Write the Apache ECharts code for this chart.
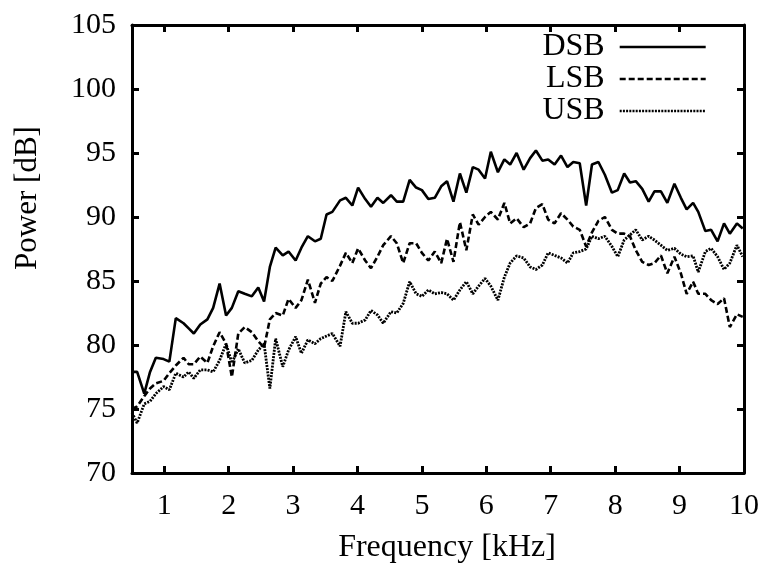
<!DOCTYPE html>
<html><head><meta charset="utf-8">
<script src="https://cdn.jsdelivr.net/npm/echarts@6/dist/echarts.min.js"></script>
<style>html,body{margin:0;padding:0;background:#fff}#c{width:773px;height:569px}</style>
</head><body><div id="c"></div>
<script>
const freq = [0.50,0.58,0.69,0.78,0.87,0.99,1.08,1.18,1.30,1.38,
  1.46,1.56,1.67,1.76,1.86,1.96,2.05,2.15,2.25,2.36,
  2.46,2.55,2.64,2.73,2.84,2.93,3.04,3.13,3.23,3.34,
  3.43,3.52,3.61,3.73,3.82,3.92,4.01,4.12,4.21,4.31,
  4.40,4.52,4.61,4.71,4.81,4.91,5.00,5.10,
  5.20,5.30,5.39,5.49,5.59,5.69,5.79,5.88,5.98,6.07,
  6.18,6.28,6.37,6.47,6.58,6.68,6.77,6.87,6.96,7.06,
  7.16,7.26,7.35,7.45,7.55,7.64,7.74,7.84,7.95,8.04,
  8.14,8.23,8.32,8.42,8.52,8.61,8.71,8.81,8.92,9.02,
  9.11,9.21,9.29,9.40,9.49,9.59,9.69,9.78,9.89,9.98];
const dsb = [77.9,77.9,76.2,77.9,79.0,78.9,78.7,82.1,81.7,81.3,
  80.9,81.6,82.0,82.9,84.8,82.3,82.9,84.2,84.0,83.8,
  84.5,83.4,86.1,87.6,87.0,87.3,86.6,87.6,88.5,88.1,
  88.3,90.2,90.4,91.3,91.5,90.9,92.3,91.4,90.8,91.5,
  91.1,91.7,91.2,91.2,92.9,92.3,92.1,91.4,
  91.5,92.4,92.8,91.2,93.4,91.9,93.9,93.7,93.0,95.1,
  93.5,94.5,94.1,95.0,93.7,94.6,95.2,94.4,94.5,94.1,
  94.8,93.9,94.3,94.2,90.9,94.1,94.3,93.3,91.9,92.1,
  93.4,92.7,92.8,92.2,91.2,92.0,92.0,91.1,92.6,91.5,
  90.6,91.1,90.4,88.9,89.0,88.1,89.5,88.7,89.5,89.1];
const lsb = [75.0,75.2,76.0,76.6,77.0,77.2,77.8,78.4,79.0,78.5,
  78.5,79.1,78.6,79.9,81.0,80.1,77.5,80.9,81.4,81.0,
  80.3,79.8,82.0,82.5,82.3,83.6,82.9,83.5,85.1,83.3,
  84.8,85.3,85.0,86.2,87.2,86.4,87.55,86.6,86.0,86.9,
  87.8,88.5,87.95,86.4,87.95,87.95,87.2,86.6,
  87.3,86.4,88.3,86.5,89.6,87.4,90.2,89.4,90.0,90.4,
  89.8,91.1,89.5,89.9,89.2,89.5,90.7,91.0,89.8,89.5,
  90.3,89.8,89.25,89.0,87.7,88.8,89.7,90.0,89.0,88.7,
  88.7,88.5,87.4,86.5,86.25,86.4,87.0,85.6,86.9,85.6,
  84.0,84.95,84.0,84.0,83.5,83.2,83.65,81.4,82.4,82.2];
const usb = [74.7,73.9,75.4,75.6,76.2,76.75,76.5,77.8,77.5,77.9,
  77.4,78.05,78.05,77.9,78.8,80.1,78.6,79.7,78.6,78.8,
  79.6,80.1,76.6,80.5,78.3,79.6,80.65,79.35,80.4,80.1,
  80.5,80.7,80.9,79.9,82.6,81.7,81.7,81.96,82.7,82.35,
  81.7,82.6,82.5,83.25,84.95,84.0,83.8,84.3,
  84.0,84.1,84.0,83.5,84.3,84.95,84.0,84.6,85.2,84.6,
  83.5,85.3,86.4,86.96,86.8,86.1,85.9,86.25,87.2,87.0,
  86.8,86.4,87.2,87.3,87.5,88.5,88.3,88.5,87.7,86.9,
  88.2,88.6,89.0,88.2,88.5,88.2,87.8,87.4,87.55,87.1,
  86.9,86.96,85.7,87.3,87.55,86.9,85.9,86.4,87.8,86.9];
const seriesNames = ['DSB','LSB','USB'];
const xTickValues = [1,2,3,4,5,6,7,8,9,10];
const xTopTicks = [1,2,3,4,5,6,7,8,9];
const xLabel = 'Frequency [kHz]';
const yLabel = 'Power [dB]';

const FONT = 'Liberation Serif';
const chart = echarts.init(document.getElementById('c'), null, {renderer:'canvas'});
const axisLine = {show:true, lineStyle:{color:'#000', width:3}};
const tick = {show:true, inside:true, length:7, lineStyle:{color:'#000', width:3}};
const pairs = arr => freq.map((f,i)=>[f, arr[i]]);

chart.setOption({
  animation:false,
  backgroundColor:'#fff',
  grid:{left:132, right:29, top:25, bottom:96, containLabel:false},
  legend:{
    orient:'vertical', right:66, top:31, padding:0, align:'right', itemWidth:86, itemHeight:14, itemGap:0,
    itemStyle:{color:'rgba(0,0,0,0)', borderColor:'rgba(0,0,0,0)', borderWidth:0, opacity:0},
    lineStyle:{width:2.6},
    textStyle:{fontFamily:FONT, fontSize:32, color:'#000', padding:[0,10,0,0]},
    data:seriesNames
  },
  xAxis:[{
    type:'value', min:0.5, max:10, position:'bottom',
    axisLine, axisTick:Object.assign({}, tick, {customValues:xTickValues}),
    axisLabel:{customValues:xTickValues, fontFamily:FONT, fontSize:30, color:'#000', margin:18},
    splitLine:{show:false},
    name:xLabel, nameLocation:'middle', nameGap:59,
    nameTextStyle:{fontFamily:FONT, fontSize:32, color:'#000', padding:[0,0,0,18]}
  },{
    type:'value', min:0.5, max:10, position:'top',
    axisLine, axisTick:Object.assign({}, tick, {customValues:xTopTicks}),
    axisLabel:{show:false}, splitLine:{show:false}
  }],
  yAxis:[{
    type:'value', min:70, max:105, interval:5, position:'left',
    axisLine, axisTick:tick,
    axisLabel:{fontFamily:FONT, fontSize:30, color:'#000', margin:16},
    splitLine:{show:false}
  },{
    type:'value', min:70, max:105, interval:5, position:'right',
    axisLine, axisTick:tick, axisLabel:{show:false}, splitLine:{show:false}
  }],
  graphic:[{
    type:'text', x:28, y:198, rotation:Math.PI/2,
    style:{text:yLabel, fontFamily:FONT, fontSize:31, fill:'#000', align:'center', verticalAlign:'middle'}
  }],
  series:[
    {name:seriesNames[0], type:'line', data:pairs(dsb), symbol:'none', showSymbol:false,
     lineStyle:{color:'#000', width:2.6, type:'solid'}, itemStyle:{color:'#000'}},
    {name:seriesNames[1], type:'line', data:pairs(lsb), symbol:'none', showSymbol:false,
     lineStyle:{color:'#000', width:2.6, type:[6,3]}, itemStyle:{color:'#000'}},
    {name:seriesNames[2], type:'line', data:pairs(usb), symbol:'none', showSymbol:false,
     lineStyle:{color:'#000', width:2.8, type:[2,1.2]}, itemStyle:{color:'#000'}}
  ]
});
</script></body></html>
